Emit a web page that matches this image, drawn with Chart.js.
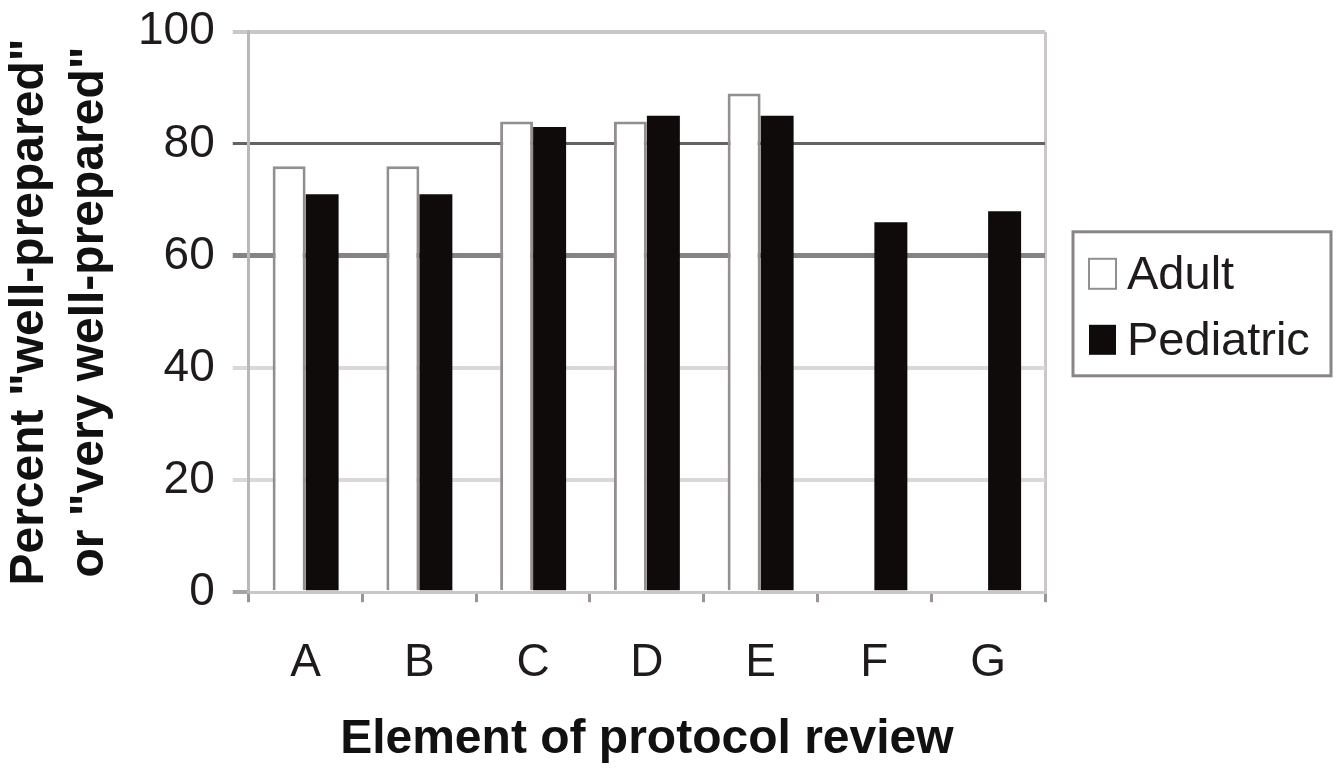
<!DOCTYPE html>
<html>
<head>
<meta charset="utf-8">
<script src="https://cdn.jsdelivr.net/npm/chart.js@4.4.1/dist/chart.umd.min.js"></script>
<style>
  html, body { margin: 0; padding: 0; background: #fff; }
  #wrap { width: 1344px; height: 769px; }
</style>
</head>
<body>
<div id="wrap"><canvas id="chart"></canvas></div>
<script>
const categories = ['A', 'B', 'C', 'D', 'E', 'F', 'G'];
const adultValues = [76, 76, 84, 84, 89, null, null];
const pediatricValues = [71, 71, 83, 85, 85, 66, 68];
const yTickValues = [0, 20, 40, 60, 80, 100];

const font = 'Liberation Sans, Arial, sans-serif';

// grid line looks per y value (the 60 and 80 lines are darker in the original)
function gridColor(v) {
    if (v === 60) return '#878383';
    if (v === 80) return '#676262';
    if (v === 100) return '#cbc7c7';
    if (v === 0) return 'rgba(0,0,0,0)';
    return '#dcd8d8';
}
function gridWidth(v) {
    if (v === 60) return 5;
    if (v === 80) return 3;
    return 4;
}

// boxed legend at the right, like the original figure
const boxLegend = {
    id: 'boxLegend',
    afterDraw(chart) {
        const ctx = chart.ctx;
        const area = chart.chartArea;
        const left = area.right + 28;
        const top = area.top + 200;
        const w = 258, h = 144;
        ctx.save();
        ctx.lineWidth = 3;
        ctx.strokeStyle = '#8a8585';
        ctx.strokeRect(left, top, w, h);
        ctx.font = '47px ' + font;
        ctx.textBaseline = 'middle';
        chart.data.datasets.forEach((ds, i) => {
            const cy = top + 42 + i * 66;
            ctx.fillStyle = ds.backgroundColor;
            ctx.fillRect(left + 16, cy - 15, 27, 30);
            if (ds.borderWidth) {
                ctx.lineWidth = 2;
                ctx.strokeStyle = ds.borderColor;
                ctx.strokeRect(left + 16, cy - 15, 27, 30);
            }
            ctx.fillStyle = '#1f1b1b';
            ctx.fillText(ds.label, left + 54, cy + 2);
        });
        ctx.restore();
    }
};

new Chart(
    document.getElementById('chart'),
    {
        type: 'bar',
        data: {
            labels: categories,
            datasets: [
                {
                    label: 'Adult',
                    data: adultValues,
                    backgroundColor: '#ffffff',
                    borderColor: '#948f8f',
                    borderWidth: 3,
                    borderSkipped: 'bottom'
                },
                {
                    label: 'Pediatric',
                    data: pediatricValues,
                    backgroundColor: '#0f0b0b',
                    borderWidth: 0
                }
            ]
        },
        plugins: [boxLegend],
        options: {
            responsive: true,
            maintainAspectRatio: false,
            animation: false,
            layout: {
                padding: { top: 0, right: 299, bottom: 0, left: 0 }
            },
            datasets: {
                bar: {
                    categoryPercentage: 0.58,
                    barPercentage: 1.0
                }
            },
            plugins: {
                legend: { display: false },
                tooltip: { enabled: false }
            },
            scales: {
                x: {
                    grid: {
                        offset: true,
                        drawOnChartArea: true,
                        color: c => c.type === 'scale' ? '#cbc7c7' : 'rgba(0,0,0,0)',
                        tickColor: '#9a9595',
                        lineWidth: 3,
                        tickLength: 10
                    },
                    border: { display: true, color: '#cbc7c7', width: 3 },
                    ticks: {
                        color: '#1f1b1b',
                        padding: 34,
                        font: { family: font, size: 46 }
                    },
                    title: {
                        display: true,
                        text: 'Element of protocol review',
                        color: '#111',
                        padding: { top: -14, bottom: 0 },
                        font: { family: font, size: 48, weight: 'bold' }
                    }
                },
                y: {
                    min: 0,
                    max: 100,
                    afterBuildTicks: axis => {
                        axis.ticks = yTickValues.map(v => ({ value: v }));
                    },
                    grid: {
                        color: c => gridColor(c.tick ? c.tick.value : null),
                        tickColor: c => c.tick && c.tick.value === 0 ? '#a9a4a4' : gridColor(c.tick ? c.tick.value : null),
                        lineWidth: c => gridWidth(c.tick ? c.tick.value : null),
                        tickLength: 16
                    },
                    border: { display: true, color: '#bcb7b7', width: 3 },
                    ticks: {
                        color: '#1f1b1b',
                        padding: 18,
                        font: { family: font, size: 46, lineHeight: 0.6 }
                    },
                    title: {
                        display: true,
                        text: ['Percent "well-prepared"', 'or "very well-prepared"'],
                        color: '#111',
                        padding: { top: 0, bottom: 0 },
                        font: { family: font, size: 48, weight: 'bold', lineHeight: 1.25 }
                    }
                }
            }
        }
    }
);
</script>
</body>
</html>
